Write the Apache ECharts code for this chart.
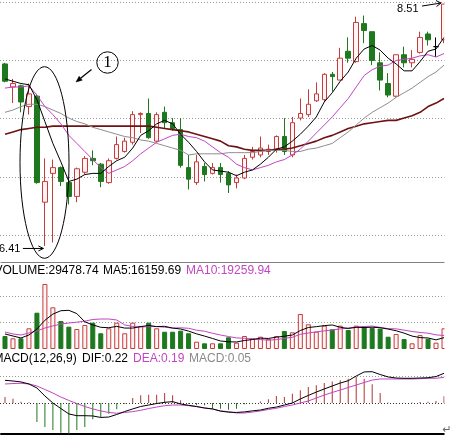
<!DOCTYPE html>
<html><head><meta charset="utf-8">
<script src="https://cdn.jsdelivr.net/npm/echarts@6/dist/echarts.min.js"></script>
<style>html,body{margin:0;padding:0;background:#fff;overflow:hidden}#c{width:454px;height:435px}</style>
</head><body><div id="c"></div>
<script>
const categories = ['1','2','3','4','5','6','7','8','9','10','11','12','13','14','15','16','17','18','19','20','21','22','23','24','25','26','27','28','29','30','31','32','33','34','35','36','37','38','39','40','41','42','43','44','45','46','47','48','49','50','51','52','53','54','55','56'];

const openPrices = [7.99,7.79,7.80,7.62,7.71,6.79,7.04,7.09,6.96,6.84,7.05,7.17,7.12,6.96,7.17,7.23,7.31,7.55,7.56,7.32,7.57,7.48,7.42,7.09,6.96,7.10,7.04,7.09,7.04,6.96,7.00,7.18,7.20,7.23,7.25,7.36,7.20,7.52,7.55,7.67,7.68,7.90,7.85,8.10,8.01,8.34,8.27,8.00,7.82,7.71,8.07,8.00,8.09,8.25,8.14,8.20];
const closePrices = [7.84,7.82,7.66,7.73,6.96,6.97,7.09,6.97,6.84,7.08,7.17,7.15,6.97,7.15,7.29,7.32,7.55,7.56,7.35,7.55,7.48,7.43,7.11,6.99,7.14,7.03,7.09,7.03,6.94,7.00,7.17,7.23,7.26,7.25,7.36,7.23,7.48,7.56,7.64,7.73,7.90,7.88,8.04,8.04,8.35,8.28,8.02,7.85,7.72,8.07,8.00,8.03,8.22,8.20,8.14,8.51];
const lowPrices = [7.83,7.65,7.57,7.55,6.95,6.41,6.44,6.93,6.77,6.79,7.03,7.11,6.92,6.95,7.16,7.22,7.29,7.39,7.34,7.31,7.43,7.41,7.09,6.90,6.94,6.97,7.03,6.96,6.87,6.91,6.99,7.16,7.18,7.20,7.22,7.20,7.18,7.50,7.53,7.66,7.66,7.75,7.85,8.00,8.00,8.17,7.98,7.76,7.70,7.70,7.96,7.96,8.08,8.15,8.05,8.17];
const highPrices = [8.00,7.86,7.81,7.82,7.73,7.17,7.16,7.10,6.97,7.09,7.19,7.24,7.13,7.17,7.36,7.35,7.58,7.57,7.69,7.57,7.62,7.52,7.52,7.20,7.20,7.13,7.13,7.13,7.06,7.03,7.20,7.27,7.36,7.29,7.37,7.52,7.53,7.69,7.77,7.83,7.91,7.92,8.13,8.22,8.40,8.41,8.27,8.09,7.91,8.07,8.14,8.11,8.27,8.27,8.22,8.51];

const ma5 = [7.86,7.84,7.82,7.81,7.68,7.49,7.30,7.14,6.97,6.99,7.03,7.04,7.04,7.10,7.15,7.18,7.26,7.37,7.41,7.47,7.50,7.47,7.38,7.31,7.23,7.14,7.07,7.06,7.05,7.02,7.05,7.07,7.12,7.18,7.25,7.27,7.32,7.38,7.45,7.53,7.66,7.74,7.84,7.92,8.04,8.12,8.15,8.11,8.04,7.99,7.93,7.93,8.01,8.10,8.12,8.22];
const ma10 = [7.78,7.79,7.79,7.80,7.72,7.62,7.55,7.47,7.37,7.30,7.23,7.16,7.09,7.04,7.07,7.10,7.15,7.21,7.26,7.31,7.34,7.37,7.38,7.36,7.35,7.32,7.27,7.22,7.18,7.12,7.09,7.07,7.09,7.11,7.14,7.16,7.20,7.25,7.32,7.39,7.46,7.53,7.61,7.69,7.79,7.89,7.94,7.97,7.98,8.02,8.03,8.04,8.06,8.07,8.05,8.08];
const ma20 = [7.57,7.59,7.62,7.64,7.64,7.62,7.59,7.56,7.52,7.49,7.47,7.44,7.42,7.40,7.38,7.36,7.35,7.33,7.32,7.30,7.28,7.26,7.24,7.20,7.21,7.21,7.21,7.21,7.22,7.22,7.22,7.22,7.23,7.24,7.24,7.24,7.23,7.23,7.25,7.26,7.28,7.30,7.35,7.40,7.46,7.52,7.57,7.61,7.65,7.70,7.74,7.78,7.83,7.88,7.92,7.98];
const ma60 = [7.38,7.40,7.42,7.43,7.44,7.44,7.45,7.45,7.45,7.45,7.45,7.45,7.45,7.45,7.45,7.45,7.45,7.45,7.45,7.44,7.43,7.42,7.41,7.40,7.38,7.36,7.34,7.32,7.28,7.27,7.25,7.24,7.24,7.24,7.25,7.25,7.26,7.28,7.30,7.32,7.35,7.37,7.40,7.43,7.45,7.47,7.48,7.49,7.50,7.50,7.52,7.54,7.57,7.62,7.65,7.69];

const volumes = [18500,15200,15200,29500,51700,92600,59400,39900,31800,28500,34200,37500,22400,29500,37500,22400,37500,32800,37500,29500,24600,24600,26100,22400,10400,8100,8100,8100,16700,9000,18500,15200,17500,14200,18500,25600,23800,49800,35200,24600,33200,28100,33200,27100,33200,31800,30000,29000,17500,21400,14200,8100,19800,14500,9000,29478.74];
const volMa5 = [21400,18500,15700,19900,28500,40900,49700,54500,55100,50400,38700,34300,30900,30300,32200,29800,29800,31900,33500,31900,32300,29800,28500,25500,21600,18400,15000,11400,10300,10000,12100,13500,15400,15000,16800,18200,19900,26300,30600,31800,33300,34200,30900,29200,30900,30600,31000,30300,28400,26000,22600,18400,16200,15700,13000,16159.69];
const volMa10 = [24200,21400,19900,22800,25600,29900,32800,35600,37000,38200,39700,42000,42700,42700,41300,34300,32000,31300,31900,32000,31000,29800,30200,29500,26800,25300,22400,19900,17800,15800,15200,14200,13400,12500,13400,15100,16700,20900,22800,24400,25800,27100,28600,29900,31300,32000,32600,30800,29000,28700,26900,24900,23600,22500,20100,19259.94];

const dif = [0.168,0.163,0.156,0.141,0.111,0.052,0.0,-0.041,-0.081,-0.094,-0.094,-0.096,-0.107,-0.104,-0.085,-0.063,-0.044,-0.026,-0.015,-0.004,0.005,0.010,-0.007,-0.017,-0.026,-0.037,-0.044,-0.060,-0.068,-0.070,-0.066,-0.058,-0.052,-0.039,-0.030,-0.015,0.0,0.030,0.056,0.081,0.104,0.126,0.148,0.165,0.200,0.230,0.232,0.211,0.193,0.185,0.183,0.183,0.185,0.187,0.196,0.22];
const dea = [0.141,0.144,0.146,0.141,0.126,0.100,0.074,0.044,0.019,-0.004,-0.026,-0.044,-0.059,-0.070,-0.076,-0.070,-0.064,-0.054,-0.041,-0.030,-0.020,-0.015,-0.015,-0.020,-0.027,-0.037,-0.044,-0.059,-0.064,-0.074,-0.074,-0.067,-0.059,-0.048,-0.039,-0.026,-0.015,0.0,0.015,0.037,0.059,0.078,0.096,0.115,0.133,0.152,0.170,0.178,0.178,0.178,0.178,0.178,0.180,0.183,0.183,0.19];
const macdHist = [0.044,0.032,0.01,0.005,-0.14,-0.178,-0.2,-0.22,-0.227,-0.2,-0.178,-0.12,-0.104,-0.079,-0.047,-0.008,0.037,0.057,0.062,0.062,0.074,0.057,0.02,-0.005,-0.017,-0.017,-0.042,-0.042,-0.05,-0.042,-0.01,-0.004,0.012,0.027,0.052,0.044,0.069,0.094,0.119,0.131,0.148,0.16,0.168,0.18,0.193,0.18,0.138,0.074,0.004,-0.003,0.002,0.003,0.008,0.01,0.015,0.05];

const UP_BORDER = '#c63c3c', UP_FILL = '#fff3f3', DOWN = '#1e781e';
const MAGENTA = '#c444c4';
const FONT = '"Liberation Sans", Arial, sans-serif';

const candleData = categories.map((c, i) => [openPrices[i], closePrices[i], lowPrices[i], highPrices[i]]);
const volData = volumes.map((v, i) => {
  const up = closePrices[i] >= openPrices[i];
  return { value: v, itemStyle: up ? { color: UP_FILL, borderColor: UP_BORDER, borderWidth: 1 } : { color: DOWN, borderColor: DOWN, borderWidth: 1 } };
});
const histData = macdHist.map(v => ({ value: v, itemStyle: { color: v >= 0 ? '#b03434' : DOWN } }));

const hidden = { axisLine: { show: false }, axisTick: { show: false }, axisLabel: { show: false }, splitLine: { show: false } };
const dotted = c => ({ show: true, lineStyle: { color: c, width: 1, type: [1, 2] } });
function lineSeries(name, x, y, data, color, width) {
  return { name, type: 'line', xAxisIndex: x, yAxisIndex: y, data, symbol: 'none', showSymbol: false, smooth: false,
    lineStyle: { color, width: width || 1 }, itemStyle: { color }, z: 4, silent: true };
}

const option = {
  animation: false,
  backgroundColor: '#fff',
  grid: [
    { left: 1, top: 0, width: 447, height: 262 },
    { left: 1, top: 263, width: 447, height: 86 },
    { left: 1, top: 362, width: 447, height: 72 },
    { left: 0, top: 2, width: 445, height: 233 },
    { left: 0, top: 296, width: 445, height: 26.3 },
    { left: 0, top: 376, width: 445, height: 27 }
  ],
  xAxis: [
    Object.assign({}, hidden, { type: 'category', gridIndex: 0, data: categories, boundaryGap: true, axisLine: { show: true, lineStyle: { color: '#808080', width: 1 } } }),
    Object.assign({}, hidden, { type: 'category', gridIndex: 1, data: categories, boundaryGap: true }),
    Object.assign({}, hidden, { type: 'category', gridIndex: 2, data: categories, boundaryGap: true, axisLine: { show: true, onZero: false, lineStyle: { color: '#000', width: 2 } } }),
    Object.assign({}, hidden, { type: 'value', gridIndex: 3, min: 0, max: 1 }),
    Object.assign({}, hidden, { type: 'value', gridIndex: 4, min: 0, max: 1 }),
    Object.assign({}, hidden, { type: 'value', gridIndex: 5, min: 0, max: 1 })
  ],
  yAxis: [
    Object.assign({}, hidden, { type: 'value', gridIndex: 0, min: 6.2708, max: 8.545 }),
    Object.assign({}, hidden, { type: 'value', gridIndex: 1, min: 0, max: 122464 }),
    Object.assign({}, hidden, { type: 'value', gridIndex: 2, min: -0.2296, max: 0.3037 }),
    Object.assign({}, hidden, { type: 'value', gridIndex: 3, min: 0, max: 4, interval: 1, splitLine: dotted('#9a9a9a') }),
    Object.assign({}, hidden, { type: 'value', gridIndex: 4, min: 0, max: 1, interval: 1, splitLine: dotted('#9a9a9a') }),
    Object.assign({}, hidden, { type: 'value', gridIndex: 5, min: 0, max: 1, interval: 1, splitLine: { show: true, lineStyle: { color: ['#333', '#9a9a9a'], width: 1, type: [1, 2] } } })
  ],
  series: [
    { name: 'K', type: 'candlestick', xAxisIndex: 0, yAxisIndex: 0, data: candleData, barWidth: 5, z: 2, silent: true,
      itemStyle: { color: UP_FILL, color0: DOWN, borderColor: UP_BORDER, borderColor0: DOWN, borderColorDoji: '#000', borderWidth: 1 } },
    lineSeries('MA60', 0, 0, ma60, '#6e1212', 1.6),
    lineSeries('MA20', 0, 0, ma20, '#8e8e8e', 1),
    lineSeries('MA10', 0, 0, ma10, MAGENTA, 1),
    lineSeries('MA5', 0, 0, ma5, '#000', 1),
    { name: 'VOL', type: 'bar', xAxisIndex: 1, yAxisIndex: 1, data: volData, barWidth: 5, z: 2, silent: true },
    lineSeries('VMA10', 1, 1, volMa10, MAGENTA, 1),
    lineSeries('VMA5', 1, 1, volMa5, '#000', 1),
    { name: 'MACD', type: 'bar', xAxisIndex: 2, yAxisIndex: 2, data: histData, barWidth: 1, z: 2, silent: true },
    lineSeries('DEA', 2, 2, dea, MAGENTA, 1),
    lineSeries('DIF', 2, 2, dif, '#000', 1)
  ]
};

const chart = echarts.init(document.getElementById('c'), null, { renderer: 'canvas' });
chart.setOption(option);

function txt(text, x, y, color, size, align, family) {
  return { type: 'text', x: x, y: y, z: 120, silent: true,
    style: { text: text, fill: color, font: size + 'px ' + (family || FONT), align: align || 'left', textAlign: align || 'left', verticalAlign: 'middle', textVerticalAlign: 'middle' } };
}
function seg(x1, y1, x2, y2, w) {
  return { type: 'line', z: 110, silent: true, shape: { x1: x1, y1: y1, x2: x2, y2: y2 }, style: { stroke: '#000', lineWidth: w || 1 } };
}

const last = volumes.length - 1;
const hiIdx = highPrices.indexOf(Math.max.apply(null, highPrices));
const loIdx = lowPrices.indexOf(Math.min.apply(null, lowPrices));
const hi = chart.convertToPixel({ gridIndex: 0 }, [hiIdx, highPrices[hiIdx]]);
const lo = chart.convertToPixel({ gridIndex: 0 }, [loIdx, lowPrices[loIdx]]);

const g = [
  { type: 'rect', z: 100, silent: true, shape: { x: 444.5, y: 0, width: 20, height: 435 }, style: { fill: '#fff' } },
  // volume header
  txt('VOLUME:' + volumes[last].toFixed(2), -5.5, 270.5, '#000', 12),
  txt('MA5:' + volMa5[last].toFixed(2), 103, 270.5, '#000', 12),
  txt('MA10:' + volMa10[last].toFixed(2), 186, 270.5, MAGENTA, 12),
  // macd header
  txt('MACD(12,26,9)', -6.6, 358.5, '#000', 12),
  txt('DIF:' + dif[last].toFixed(2), 82, 358.5, '#000', 12),
  txt('DEA:' + dea[last].toFixed(2), 133, 358.5, MAGENTA, 12),
  txt('MACD:' + macdHist[last].toFixed(2), 189, 358.5, '#8a8a8a', 12),
  // high label
  txt(highPrices[hiIdx].toFixed(2), hi[0] - 25.5, hi[1] + 4.5, '#000', 11, 'right'),
  seg(hi[0] - 22, hi[1] + 2, hi[0] - 3, hi[1] - 1),
  seg(hi[0] - 3, hi[1] - 1, hi[0] - 8, hi[1] - 3.5),
  seg(hi[0] - 3, hi[1] - 1, hi[0] - 7.5, hi[1] + 2.5),
  // low label
  txt(lowPrices[loIdx].toFixed(2), lo[0] - 24.5, lo[1] + 3, '#000', 11, 'right'),
  seg(lo[0] - 22, lo[1] + 2.5, lo[0] - 1.5, lo[1] + 2.5),
  seg(lo[0] - 1.5, lo[1] + 2.5, lo[0] - 6.5, lo[1]),
  seg(lo[0] - 1.5, lo[1] + 2.5, lo[0] - 6.5, lo[1] + 5),
  // annotation ellipse, circled 1 and arrow
  { type: 'ellipse', z: 110, silent: true, shape: { cx: 44.5, cy: 162.5, rx: 24.5, ry: 95.8 }, style: { fill: null, stroke: '#000', lineWidth: 1 } },
  { type: 'circle', z: 110, silent: true, shape: { cx: 107.5, cy: 62.5, r: 10.7 }, style: { fill: null, stroke: '#000', lineWidth: 1 } },
  txt('1', 107.5, 63, '#000', 17, 'center', '"Liberation Serif", "Times New Roman", serif'),
  seg(91.5, 69.5, 80.6, 78.3, 1.2),
  { type: 'polygon', z: 110, silent: true, shape: { points: [[76, 82], [82.2, 80.2], [79.1, 76.3]] }, style: { fill: '#000', stroke: '#000', lineWidth: 0.5 } },
  txt('\u21B5', 447, 430, '#666', 11, 'center', '"DejaVu Sans", sans-serif')
];
chart.setOption({ graphic: { elements: g } });
</script>
</body></html>
